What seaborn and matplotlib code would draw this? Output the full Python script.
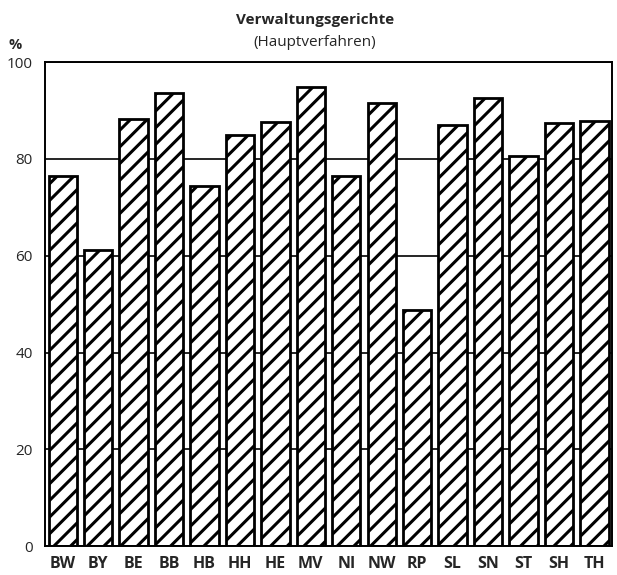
import matplotlib
matplotlib.use('Agg')
import matplotlib.pyplot as plt
import pandas as pd
import seaborn as sns

# Bundeslaender and share (%) of Hauptverfahren
laender = ['BW', 'BY', 'BE', 'BB', 'HB', 'HH', 'HE', 'MV',
           'NI', 'NW', 'RP', 'SL', 'SN', 'ST', 'SH', 'TH']
anteil = [76.5, 61.2, 88.3, 93.6, 74.5, 85.0, 87.7, 94.9,
          76.5, 91.5, 48.7, 87.0, 92.5, 80.7, 87.4, 87.9]
y_ticks = [0, 20, 40, 60, 80, 100]

df = pd.DataFrame({'land': laender, 'anteil': anteil})

sns.set_style('white')
plt.rcParams['font.family'] = ['Open Sans', 'DejaVu Sans']
plt.rcParams['hatch.linewidth'] = 2.2
plt.rcParams['hatch.color'] = 'black'

fig = plt.figure(figsize=(6.17, 5.75), dpi=100)
ax = fig.add_axes([0.073, 0.05, 0.919, 0.842])

sns.barplot(data=df, x='land', y='anteil', color='white', saturation=1,
            edgecolor='black', linewidth=2.0, hatch='//', width=0.8, ax=ax)

ax.set_ylim(0, 100)
ax.set_xlim(-0.5, len(laender) - 0.5)
ax.set_yticks(y_ticks)
ax.set_yticklabels([str(t) for t in y_ticks], fontsize=11)
ax.tick_params(axis='y', length=0, pad=9)
ax.tick_params(axis='x', length=0, pad=7)
for lab in ax.get_xticklabels():
    lab.set_fontweight('bold')
    lab.set_fontsize(11.5)
ax.set_xlabel('')
ax.set_ylabel('')

# horizontal grid lines behind the bars
ax.set_axisbelow(True)
ax.yaxis.grid(True, color='black', linewidth=1.2)
for s in ax.spines.values():
    s.set_visible(True)
    s.set_color('black')
    s.set_linewidth(1.4)

fig.text(0.51, 0.966, 'Verwaltungsgerichte', ha='center', va='center',
         fontsize=11, fontweight='bold')
fig.text(0.51, 0.926, '(Hauptverfahren)', ha='center', va='center', fontsize=11)
fig.text(0.025, 0.922, '%', ha='center', va='center', fontsize=10.5, fontweight='bold')

fig.savefig('out.png', dpi=100)
